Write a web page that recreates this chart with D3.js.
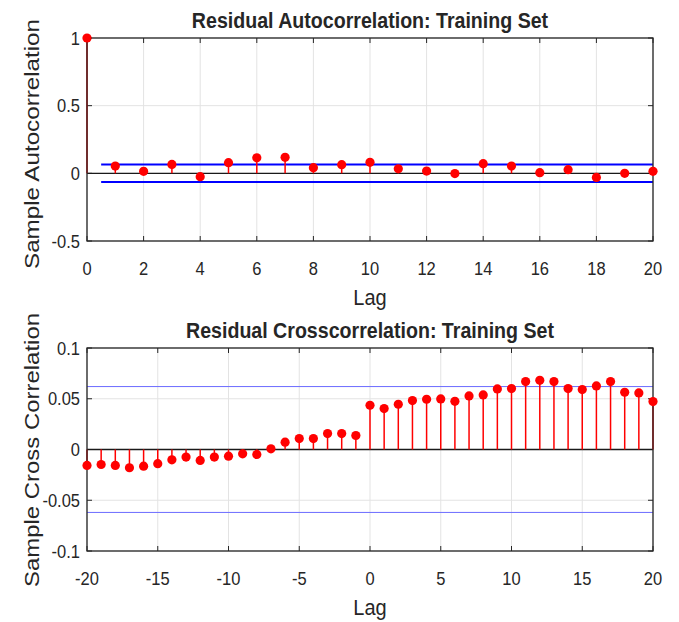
<!DOCTYPE html>
<html>
<head>
<meta charset="utf-8">
<script src="https://cdn.jsdelivr.net/npm/d3@7"></script>
<style>
  body { margin: 0; background: #fff; }
  text { font-family: "Liberation Sans", Arial, sans-serif; fill: #262626; }
</style>
</head>
<body>
<svg id="chart" width="679" height="622"></svg>
<script>
// residual autocorrelation, lags 0..20
const acfLags = d3.range(0, 21);
const acfValues = [1, 0.054, 0.015, 0.066, -0.025, 0.079, 0.115, 0.118, 0.042, 0.064,
                   0.081, 0.034, 0.017, -0.002, 0.071, 0.054, 0.005, 0.027, -0.030, 0.000, 0.015];
const acfBound = 0.0645;

// residual crosscorrelation, lags -20..20
const xcfLags = d3.range(-20, 21);
const xcfValues = [-0.0157, -0.0148, -0.0157, -0.0180, -0.0164, -0.0140, -0.0102, -0.0075, -0.0108, -0.0075,
                   -0.0066, -0.0043, -0.0049, 0.0007, 0.0072, 0.0108, 0.0108, 0.0157, 0.0157, 0.0138,
                   0.0436, 0.0403, 0.0446, 0.0482, 0.0495, 0.0498, 0.0475, 0.0528, 0.0538, 0.0597,
                   0.0600, 0.0669, 0.0682, 0.0669, 0.0600, 0.0590, 0.0626, 0.0669, 0.0564, 0.0557, 0.0472];
const xcfBound = 0.062;

const acfXTicks = d3.range(0, 21, 2);
const acfYTicks = [-0.5, 0, 0.5, 1];
const xcfXTicks = d3.range(-20, 21, 5);
const xcfYTicks = [-0.1, -0.05, 0, 0.05, 0.1];

const svg = d3.select('#chart');
const left = 87, right = 653;

// text stretched a bit vertically, like the reference
function label(g, x, y, str, size, anchor, bold) {
    return g.append('text')
        .attr('transform', `translate(${x},${y}) scale(1,1.1)`)
        .attr('text-anchor', anchor)
        .style('font-size', size + 'px')
        .style('font-weight', bold ? 'bold' : 'normal')
        .text(str);
}

function panel(opt) {
    const g = svg.append('g');
    const x = d3.scaleLinear().domain(opt.xDomain).range([left, right]);
    const y = d3.scaleLinear().domain(opt.yDomain).range([opt.bottom, opt.top]);

    // grid
    g.selectAll('.gx').data(opt.xTicks).join('line')
        .attr('x1', d => x(d)).attr('x2', d => x(d))
        .attr('y1', opt.top).attr('y2', opt.bottom)
        .attr('stroke', '#e3e3e3').attr('stroke-width', 1);
    g.selectAll('.gy').data(opt.yTicks).join('line')
        .attr('x1', left).attr('x2', right)
        .attr('y1', d => y(d)).attr('y2', d => y(d))
        .attr('stroke', '#e3e3e3').attr('stroke-width', 1);

    // inward ticks on every side
    const tl = 5;
    opt.xTicks.forEach(d => {
        g.append('line').attr('x1', x(d)).attr('x2', x(d)).attr('y1', opt.bottom).attr('y2', opt.bottom - tl).attr('stroke', '#262626');
        g.append('line').attr('x1', x(d)).attr('x2', x(d)).attr('y1', opt.top).attr('y2', opt.top + tl).attr('stroke', '#262626');
    });
    opt.yTicks.forEach(d => {
        g.append('line').attr('x1', left).attr('x2', left + tl).attr('y1', y(d)).attr('y2', y(d)).attr('stroke', '#262626');
        g.append('line').attr('x1', right).attr('x2', right - tl).attr('y1', y(d)).attr('y2', y(d)).attr('stroke', '#262626');
    });

    // zero line
    g.append('line').attr('x1', left).attr('x2', right)
        .attr('y1', y(0)).attr('y2', y(0))
        .attr('stroke', '#1a1a1a').attr('stroke-width', 1.3);

    // confidence bounds
    [opt.bound, -opt.bound].forEach(b => {
        g.append('line')
            .attr('x1', x(opt.boundStart)).attr('x2', right)
            .attr('y1', y(b)).attr('y2', y(b))
            .attr('stroke', opt.boundColor).attr('stroke-width', opt.boundWidth);
    });

    // stems
    const pts = opt.lags.map((l, i) => ({l, v: opt.values[i]}));
    g.selectAll('.stem').data(pts).join('line')
        .attr('x1', d => x(d.l)).attr('x2', d => x(d.l))
        .attr('y1', y(0)).attr('y2', d => y(d.v))
        .attr('stroke', '#ff0000').attr('stroke-width', 1.5);

    // box
    g.append('rect').attr('x', left).attr('y', opt.top)
        .attr('width', right - left).attr('height', opt.bottom - opt.top)
        .attr('fill', 'none').attr('stroke', '#262626').attr('stroke-width', 1.3);

    g.selectAll('.dot').data(pts).join('circle')
        .attr('cx', d => x(d.l)).attr('cy', d => y(d.v))
        .attr('r', 4.6).attr('fill', '#ff0000');

    // tick labels
    opt.xTicks.forEach(d => label(g, x(d), opt.bottom + 34, String(d), 16.5, 'middle'));
    opt.yTicks.forEach(d => label(g, 80, y(d) + 6.5, String(d), 16.5, 'end'));

    // title and axis labels
    label(g, (left + right) / 2, opt.top - 10, opt.title, 19.6, 'middle', true);
    label(g, (left + right) / 2, opt.bottom + 64, 'Lag', 20, 'middle');
    g.append('text')
        .attr('transform', `translate(39,${opt.yLabelY}) rotate(-90)`)
        .attr('text-anchor', 'middle')
        .attr('textLength', opt.yLabelLen)
        .attr('lengthAdjust', 'spacingAndGlyphs')
        .style('font-size', '20.5px')
        .text(opt.yLabel);
}

panel({
    top: 38, bottom: 241,
    xDomain: [0, 20], yDomain: [-0.5, 1],
    xTicks: acfXTicks, yTicks: acfYTicks,
    lags: acfLags, values: acfValues,
    bound: acfBound, boundStart: 0.5, boundColor: '#0000ff', boundWidth: 2,
    title: 'Residual Autocorrelation: Training Set',
    yLabel: 'Sample Autocorrelation', yLabelY: 144, yLabelLen: 250
});

panel({
    top: 348, bottom: 551,
    xDomain: [-20, 20], yDomain: [-0.1, 0.1],
    xTicks: xcfXTicks, yTicks: xcfYTicks,
    lags: xcfLags, values: xcfValues,
    bound: xcfBound, boundStart: -20, boundColor: '#6b6bff', boundWidth: 1,
    title: 'Residual Crosscorrelation: Training Set',
    yLabel: 'Sample Cross Correlation', yLabelY: 450, yLabelLen: 274
});
</script>
</body>
</html>
